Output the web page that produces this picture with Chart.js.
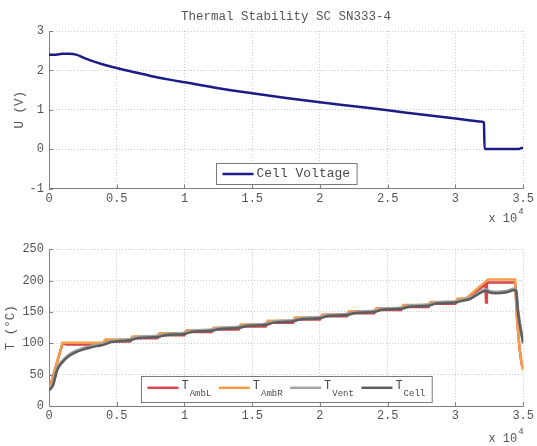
<!DOCTYPE html>
<html>
<head>
<meta charset="utf-8">
<title>Thermal Stability SC SN333-4</title>
<script src="https://cdn.jsdelivr.net/npm/chart.js@4.4.1/dist/chart.umd.min.js"></script>
<style>
  html, body { margin: 0; padding: 0; background: #fff; }
  #wrap { position: relative; width: 537px; height: 446px; }
  .panel { position: absolute; left: 0; width: 537px; }
</style>
</head>
<body>
<div id="wrap">
  <div class="panel" style="top:0;height:230px"><canvas id="voltChart" width="537" height="230"></canvas></div>
  <div class="panel" style="top:230px;height:216px"><canvas id="tempChart" width="537" height="216"></canvas></div>
</div>
<script>
// time in seconds, the x axis shows it in units of 10^4
const xTickLabels = ['0', '0.5', '1', '1.5', '2', '2.5', '3', '3.5'];
const voltTicks = [-1, 0, 1, 2, 3];
const tempTicks = [0, 50, 100, 150, 200, 250];

// top panel: cell voltage
const voltTime = [0, 500, 1000, 1500, 2000, 2500, 3000, 4000, 5000, 6000, 7500, 9000, 10000, 12500, 15000, 17500, 20000, 22500, 25000, 27500, 30000, 32000, 32100, 32150, 34700, 34850, 35000];
const cellVoltage = [2.40, 2.40, 2.42, 2.42, 2.40, 2.33, 2.26, 2.15, 2.06, 1.98, 1.86, 1.76, 1.70, 1.55, 1.42, 1.30, 1.19, 1.09, 0.99, 0.88, 0.78, 0.70, 0.68, 0.01, 0.01, 0.03, 0.03];

// bottom panel: temperatures
const ambLTime = [0, 1000, 1300, 4000, 4150, 6000, 6150, 8000, 8150, 10000, 10150, 12000, 12150, 14000, 14150, 16000, 16150, 18000, 18150, 20000, 20150, 22000, 22150, 24000, 24150, 26000, 26150, 28000, 28150, 30000, 30150, 30800, 32200, 32260, 32320, 32450, 34400, 34550, 34720, 34880, 35000];
const ambLTemp = [25, 100, 98, 98, 103, 103, 108, 108, 113, 113, 118, 118, 122, 122, 127, 127, 133, 133, 138, 138, 143, 143, 148, 148, 153, 153, 158, 158, 163, 163, 168, 169, 194, 165, 196, 197, 197, 138, 93, 67, 60];

const ambRTime = [0, 1000, 4000, 4150, 6000, 6150, 8000, 8150, 10000, 10150, 12000, 12150, 14000, 14150, 16000, 16150, 18000, 18150, 20000, 20150, 22000, 22150, 24000, 24150, 26000, 26150, 28000, 28150, 30000, 30150, 30800, 32400, 34400, 34550, 34720, 34880, 35000];
const ambRTemp = [25, 101, 101, 106, 106, 111, 111, 116, 116, 121, 121, 125, 125, 130, 130, 136, 136, 141, 141, 146, 146, 151, 151, 156, 156, 161, 161, 166, 166, 171, 172, 202, 202, 140, 95, 68, 57];

const probeTime = [0, 300, 600, 1000, 1500, 2000, 2500, 3000, 3500, 4000, 4600, 6000, 6600, 8000, 8600, 10000, 10600, 12000, 12600, 14000, 14600, 16000, 16600, 18000, 18600, 20000, 20600, 22000, 22600, 24000, 24600, 26000, 26600, 28000, 28600, 30000, 30600, 31000, 32300, 32500, 33000, 33700, 34400, 34500, 34600, 34750, 35000];
const ventTemp = [26, 36, 60, 72, 82, 88, 92, 95, 97, 99, 103.5, 106.5, 110, 111.5, 114.5, 116.5, 120, 121.5, 124.5, 126, 129, 131, 134.5, 136.5, 140, 141.5, 145, 146.5, 150, 151.5, 155, 156.5, 160, 161.5, 165, 166.5, 170, 171.5, 186, 183, 182, 183, 187, 182, 156, 132, 103];
const cellTemp = [25, 33, 57, 70, 80, 86, 90, 93, 95.5, 97.5, 102, 105, 108.5, 110, 113, 115, 118.5, 120, 123, 124.5, 127.5, 129.5, 133, 135, 138.5, 140, 143.5, 145, 148.5, 150, 153.5, 155, 158.5, 160, 163.5, 165, 168.5, 170, 184, 181, 180, 181, 185, 180, 153, 129, 100];

const monoFont = "'Liberation Mono', 'DejaVu Sans Mono', monospace";
const textColor = '#555555';
const axisColor = '#808080';
const gridColor = '#c8c8c8';

function toPoints(xs, ys) {
    return xs.map((x, i) => ({ x: x, y: ys[i] }));
}

// inward tick marks, the "x 10^4" note and a MATLAB style legend inside the axes
const decorPlugin = {
    id: 'decor',
    afterDraw(chart, args, opts) {
        const ctx = chart.ctx;
        const area = chart.chartArea;
        const xs = chart.scales.x;
        const ys = chart.scales.y;
        ctx.save();

        ctx.strokeStyle = axisColor;
        ctx.lineWidth = 1;
        ctx.beginPath();
        xs.ticks.forEach(t => {
            const px = Math.round(xs.getPixelForValue(t.value)) + 0.5;
            ctx.moveTo(px, area.bottom);
            ctx.lineTo(px, area.bottom - 4);
        });
        ys.ticks.forEach(t => {
            const py = Math.round(ys.getPixelForValue(t.value)) + 0.5;
            ctx.moveTo(area.left, py);
            ctx.lineTo(area.left + 4, py);
        });
        ctx.stroke();

        // exponent of the time axis
        ctx.fillStyle = textColor;
        ctx.textBaseline = 'middle';
        ctx.textAlign = 'right';
        ctx.font = '12px ' + monoFont;
        ctx.fillText('x 10', area.right - 6, opts.expY);
        ctx.textAlign = 'left';
        ctx.font = '9px ' + monoFont;
        ctx.fillText('4', area.right - 5, opts.expY - 7);

        // legend, built from dataset labels ("T_AmbL" -> T with subscript)
        const mainFont = opts.fontSize + 'px ' + monoFont;
        const subFont = '9px ' + monoFont;
        const items = chart.data.datasets.map(ds => {
            const parts = ds.label.split('_');
            ctx.font = mainFont;
            const mainW = ctx.measureText(parts[0]).width;
            ctx.font = subFont;
            const subW = parts[1] ? ctx.measureText(parts[1]).width + 1 : 0;
            return { ds: ds, main: parts[0], sub: parts[1], w: 31 + 3 + mainW + subW, mainW: mainW };
        });
        const gap = 7.5;
        let boxW = 6 + 7 + items.reduce((s, it) => s + it.w, 0) + gap * (items.length - 1);
        const boxH = opts.boxHeight;
        const boxX = Math.round((area.left + area.right) / 2 - boxW / 2) + 0.5;
        const boxY = Math.round(area.bottom - 4.5 - boxH) + 0.5;
        ctx.fillStyle = '#ffffff';
        ctx.fillRect(boxX, boxY, boxW, boxH);
        ctx.strokeStyle = '#7a7a7a';
        ctx.lineWidth = 1;
        ctx.strokeRect(boxX, boxY, boxW, boxH);

        const cy = boxY + boxH / 2;
        let x = boxX + 6;
        items.forEach(it => {
            const ly = cy + opts.lineShift;
            ctx.strokeStyle = it.ds.borderColor;
            ctx.lineWidth = 2.5;
            ctx.beginPath();
            ctx.moveTo(x, ly);
            ctx.lineTo(x + 31, ly);
            ctx.stroke();
            ctx.fillStyle = '#4a4a4a';
            ctx.textAlign = 'left';
            ctx.textBaseline = 'middle';
            ctx.font = mainFont;
            ctx.fillText(it.main, x + 34, cy + opts.textShift);
            if (it.sub) {
                ctx.font = subFont;
                ctx.fillText(it.sub, x + 34 + it.mainW + 1, cy + opts.textShift + 8);
            }
            x += it.w + gap;
        });

        ctx.restore();
    }
};

function axisOptions(yTicks, yTitle, yTitlePad, xHeight) {
    return {
        x: {
            type: 'linear',
            min: 0,
            max: 35000,
            ticks: {
                stepSize: 5000,
                autoSkip: false,
                maxRotation: 0,
                padding: 3,
                color: textColor,
                font: { family: monoFont, size: 12 },
                callback: (v, i) => xTickLabels[i]
            },
            grid: { color: gridColor, lineWidth: 1, drawTicks: false },
            border: { display: true, color: axisColor, width: 1, dash: [1, 2] },
            afterFit: s => { s.height = xHeight; }
        },
        y: {
            min: yTicks[0],
            max: yTicks[yTicks.length - 1],
            ticks: {
                stepSize: yTicks[1] - yTicks[0],
                padding: 5,
                color: textColor,
                font: { family: monoFont, size: 12 }
            },
            grid: { color: gridColor, lineWidth: 1, drawTicks: false },
            border: { display: true, color: axisColor, width: 1, dash: [1, 2] },
            title: {
                display: true,
                text: yTitle,
                color: textColor,
                font: { family: monoFont, size: 12.5 },
                padding: { top: yTitlePad, bottom: 0 }
            },
            afterFit: s => { s.width = 49; }
        }
    };
}

new Chart(document.getElementById('voltChart'), {
    type: 'line',
    data: {
        datasets: [{
            label: 'Cell Voltage',
            data: toPoints(voltTime, cellVoltage),
            borderColor: '#1c1c86',
            borderWidth: 2.5,
            pointRadius: 0,
            cubicInterpolationMode: 'monotone'
        }]
    },
    options: {
        responsive: false,
        animation: false,
        layout: { padding: { left: 0, right: 12, top: 0, bottom: 0 } },
        plugins: {
            legend: { display: false },
            tooltip: { enabled: false },
            title: {
                display: true,
                fullSize: false,
                text: 'Thermal Stability SC SN333-4',
                color: textColor,
                font: { family: monoFont, size: 12.5, weight: 'normal' },
                padding: { top: 9, bottom: 7 }
            },
            decor: { expY: 219, fontSize: 13, boxHeight: 21, lineShift: 0, textShift: 0 }
        },
        scales: axisOptions(voltTicks, 'U (V)', 12, 41.3)
    },
    plugins: [decorPlugin]
});

new Chart(document.getElementById('tempChart'), {
    type: 'line',
    data: {
        datasets: [
            { label: 'T_AmbL', data: toPoints(ambLTime, ambLTemp), borderColor: '#d8454b', borderWidth: 2.5, pointRadius: 0, order: 4 },
            { label: 'T_AmbR', data: toPoints(ambRTime, ambRTemp), borderColor: '#f59c48', borderWidth: 2.5, pointRadius: 0, order: 3 },
            { label: 'T_Vent', data: toPoints(probeTime, ventTemp), borderColor: '#a4a4a4', borderWidth: 3, pointRadius: 0, order: 2, cubicInterpolationMode: 'monotone' },
            { label: 'T_Cell', data: toPoints(probeTime, cellTemp), borderColor: '#5e5e5e', borderWidth: 2.5, pointRadius: 0, order: 1, cubicInterpolationMode: 'monotone' }
        ]
    },
    options: {
        responsive: false,
        animation: false,
        layout: { padding: { left: 0, right: 12, top: 19.3, bottom: 0 } },
        plugins: {
            legend: { display: false },
            tooltip: { enabled: false },
            decor: { expY: 208.5, fontSize: 12, boxHeight: 26, lineShift: -1.7, textShift: -3.4 }
        },
        scales: axisOptions(tempTicks, 'T (°C)', 3.5, 40)
    },
    plugins: [decorPlugin]
});
</script>
</body>
</html>
